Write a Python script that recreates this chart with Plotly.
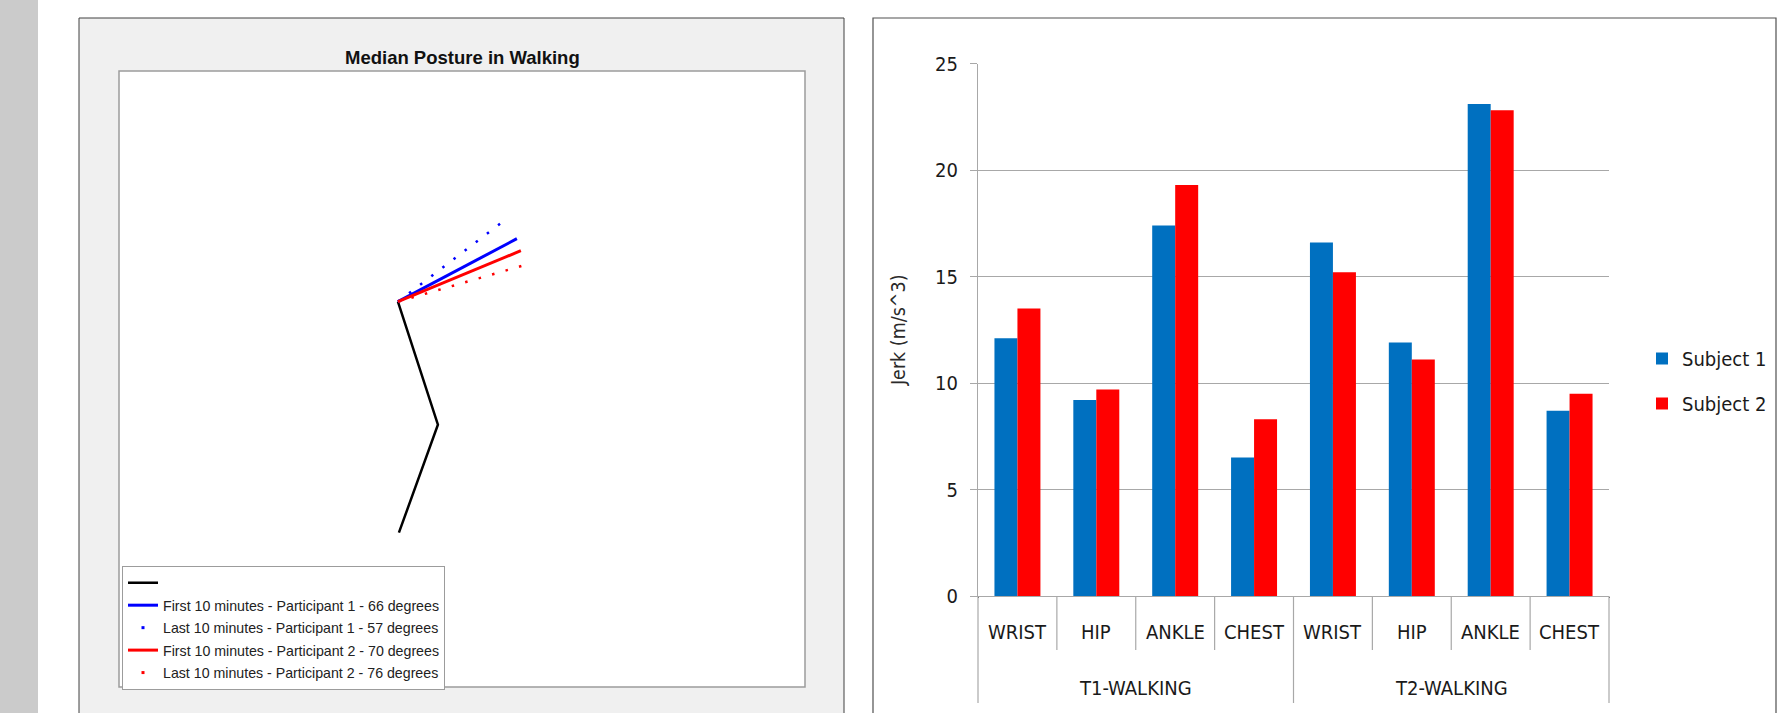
import plotly.graph_objects as go

# ---------------- data ----------------
# Left panel: median posture (hip joint at origin, arbitrary units)
trunk_x = [0.01, 0.40, 0.0]
trunk_y = [-2.31, -1.23, 0.0]
posture_names = [
    "First 10 minutes - Participant 1 - 66 degrees",
    "Last 10 minutes - Participant 1 - 57 degrees",
    "First 10 minutes - Participant 2 - 70 degrees",
    "Last 10 minutes - Participant 2 - 76 degrees",
]
posture_end_x = [1.19, 1.10, 1.23, 1.28]
posture_end_y = [0.63, 0.84, 0.51, 0.37]

# Right panel: jerk per sensor site
groups = ["T1-WALKING", "T1-WALKING", "T1-WALKING", "T1-WALKING",
          "T2-WALKING", "T2-WALKING", "T2-WALKING", "T2-WALKING"]
sites = ["WRIST", "HIP", "ANKLE", "CHEST", "WRIST", "HIP", "ANKLE", "CHEST"]
group_names = ["T1-WALKING", "T2-WALKING"]
subject1 = [12.1, 9.2, 17.4, 6.5, 16.6, 11.9, 23.1, 8.7]
subject2 = [13.5, 9.7, 19.3, 8.3, 15.2, 11.1, 22.8, 9.5]
y_ticks = [0, 5, 10, 15, 20, 25]

# ---------------- style ----------------
W, H = 1786, 713
def px(x): return x / W
def py(y): return 1 - y / H

posture_colors = ["#0000ff", "#0000ff", "#ff0000", "#ff0000"]
posture_dotted = [False, True, False, True]
NARROW = "Liberation Sans Narrow, Arial Narrow, DejaVu Sans Condensed, sans-serif"
ARIAL = "Arial, Liberation Sans, sans-serif"
GRID = "#a8a8a8"

fig = go.Figure()

# ---- left panel traces ----
fig.add_trace(go.Scatter(x=trunk_x, y=trunk_y, mode="lines", name=" ",
                         line=dict(color="black", width=2.5),
                         xaxis="x", yaxis="y", legend="legend", legendgroup="g0"))
for i in range(4):
    if posture_dotted[i]:
        fig.add_trace(go.Scatter(x=[0, posture_end_x[i]], y=[0, posture_end_y[i]],
                                 mode="lines", showlegend=False,
                                 line=dict(color=posture_colors[i], width=2.5, dash="2.5px,11.5px"),
                                 xaxis="x", yaxis="y"))
for i in range(4):
    if not posture_dotted[i]:
        fig.add_trace(go.Scatter(x=[0, posture_end_x[i]], y=[0, posture_end_y[i]],
                                 mode="lines", name=posture_names[i],
                                 line=dict(color=posture_colors[i], width=3),
                                 xaxis="x", yaxis="y", legend="legend",
                                 legendgroup="g%d" % (i + 1)))
    else:
        fig.add_trace(go.Scatter(x=[None], y=[None], mode="markers",
                                 name=posture_names[i],
                                 marker=dict(color=posture_colors[i], size=3, symbol="square"),
                                 xaxis="x", yaxis="y", legend="legend",
                                 legendgroup="g%d" % (i + 1)))

# ---- right panel traces ----
fig.add_trace(go.Bar(x=[groups, sites], y=subject1, name="Subject 1",
                     marker=dict(color="#0070c0", line=dict(width=0)),
                     xaxis="x2", yaxis="y2", legend="legend2", legendgroup="s1"))
fig.add_trace(go.Bar(x=[groups, sites], y=subject2, name="Subject 2",
                     marker=dict(color="#ff0000", line=dict(width=0)),
                     xaxis="x2", yaxis="y2", legend="legend2", legendgroup="s2"))

# ---- background panels (shapes) ----
shapes = [
    dict(type="rect", xref="paper", yref="paper", x0=-0.01, x1=px(38), y0=-0.05, y1=1.05,
         fillcolor="#cbcbcb", line=dict(width=0), layer="below"),
    dict(type="rect", xref="paper", yref="paper", x0=px(79), x1=px(844), y0=-0.05, y1=py(18),
         fillcolor="#f0f0f0", line=dict(color="#404040", width=1), layer="below"),
    dict(type="rect", xref="paper", yref="paper", x0=px(119), x1=px(805), y0=py(687), y1=py(71),
         fillcolor="white", line=dict(color="#9c9c9c", width=1.5), layer="below"),
    dict(type="rect", xref="paper", yref="paper", x0=px(873), x1=px(1776), y0=-0.05, y1=py(18),
         fillcolor="white", line=dict(color="#505050", width=1.2), layer="below"),
]
for k in range(9):
    long_line = k in (0, 4, 8)
    shapes.append(dict(type="line", xref="x2 domain", yref="paper",
                       x0=k / 8, x1=k / 8, y0=py(703 if long_line else 650), y1=py(596),
                       line=dict(color=GRID, width=1.2)))

annotations = [
    dict(text="<b>Median Posture in Walking</b>", xref="paper", yref="paper",
         x=px(462), y=py(57), showarrow=False, xanchor="center", yanchor="middle",
         font=dict(family=ARIAL, size=18.5, color="#111")),
]
for k, s in enumerate(sites):
    annotations.append(dict(text=s, xref="x2 domain", yref="paper", x=(k + 0.5) / 8, y=py(632),
                            showarrow=False, xanchor="center", yanchor="middle",
                            font=dict(family=NARROW, size=20, color="#1a1a1a")))
for k, g in enumerate(group_names):
    annotations.append(dict(text=g, xref="x2 domain", yref="paper", x=(k + 0.5) / 2, y=py(688),
                            showarrow=False, xanchor="center", yanchor="middle",
                            font=dict(family=NARROW, size=20, color="#1a1a1a")))

fig.update_layout(
    width=W, height=H,
    margin=dict(l=0, r=0, t=0, b=0, pad=0, autoexpand=False),
    paper_bgcolor="white",
    plot_bgcolor="rgba(0,0,0,0)",
    shapes=shapes,
    annotations=annotations,
    barmode="group",
    bargap=0.417,
    bargroupgap=0,
    xaxis=dict(domain=[px(119), px(805)], range=[-2.79, 4.072], anchor="y",
               visible=False, showgrid=False, zeroline=False, fixedrange=True),
    yaxis=dict(domain=[py(687), py(71)], range=[-3.853, 2.307], anchor="x",
               visible=False, showgrid=False, zeroline=False, fixedrange=True),
    xaxis2=dict(domain=[px(978), px(1609)], anchor="y2", type="multicategory",
                showticklabels=False, ticks="", showgrid=False, zeroline=False,
                showline=True, linecolor=GRID, linewidth=1.2),
    yaxis2=dict(domain=[py(596), py(63.5)], anchor="x2", range=[0, 25],
                tickvals=y_ticks, showgrid=True, gridcolor=GRID, gridwidth=1.3,
                zeroline=False, showline=True, linecolor=GRID, linewidth=1.2,
                ticks="outside", ticklen=7, tickcolor=GRID, ticklabelstandoff=8,
                tickfont=dict(family=NARROW, size=20, color="#1a1a1a"),
                title=dict(text="Jerk (m/s^3)", standoff=24,
                           font=dict(family=NARROW, size=19.5, color="#2a2a2a"))),
    legend=dict(x=px(122), y=py(566), xanchor="left", yanchor="top",
                bgcolor="white", bordercolor="#9c9c9c", borderwidth=1,
                font=dict(family=ARIAL, size=14.2, color="#222"),
                tracegroupgap=1, itemwidth=30),
    legend2=dict(x=px(1642), y=py(339), xanchor="left", yanchor="top",
                 bgcolor="rgba(0,0,0,0)", borderwidth=0,
                 font=dict(family=NARROW, size=20, color="#1a1a1a"),
                 tracegroupgap=16, itemwidth=30),
    showlegend=True,
)

fig.write_html("out.html", config={"displayModeBar": False},
               post_script="document.body.style.margin='0px';document.body.style.overflow='hidden';")
